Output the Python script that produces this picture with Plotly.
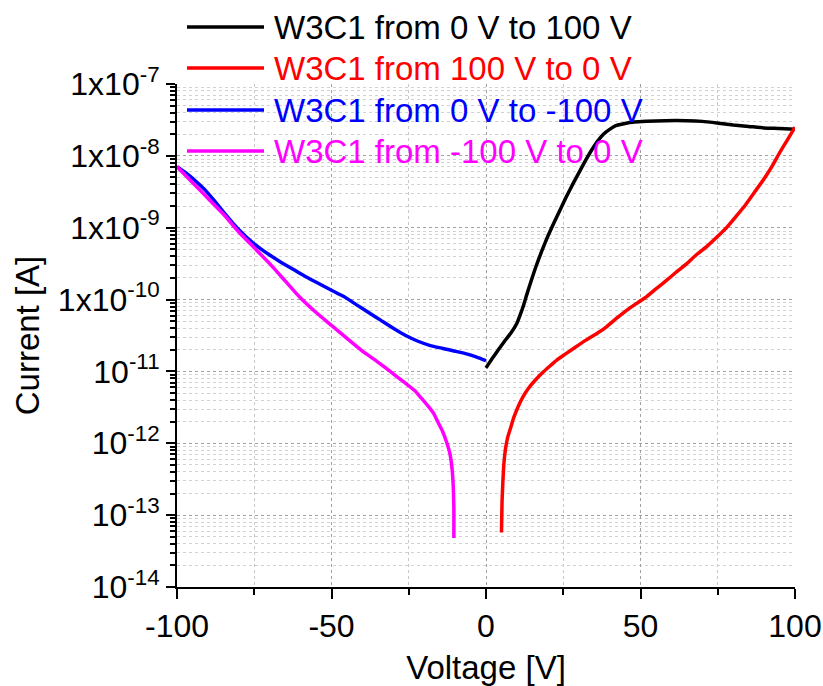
import plotly.graph_objects as go

# Sweep 1: 0 V -> 100 V
v_up_pos = [0, 2, 4, 6, 8, 10, 11, 12, 13, 14, 16, 18, 20, 22, 24, 26, 28, 30, 32, 34, 36,
            38, 40, 42, 45, 48, 52, 58, 65, 70, 76, 80, 85, 90, 95, 100]
i_up_pos = [1.12e-11, 1.51e-11, 2.00e-11, 2.63e-11, 3.39e-11, 4.68e-11, 6.03e-11, 7.94e-11,
            1.10e-10, 1.51e-10, 2.75e-10, 4.68e-10, 7.59e-10, 1.17e-9, 1.78e-9, 2.69e-9,
            3.98e-9, 5.75e-9, 8.32e-9, 1.17e-8, 1.58e-8, 2.00e-8, 2.34e-8, 2.63e-8,
            2.82e-8, 2.95e-8, 3.02e-8, 3.09e-8, 3.09e-8, 3.02e-8, 2.82e-8, 2.69e-8,
            2.57e-8, 2.45e-8, 2.40e-8, 2.34e-8]

# Sweep 2: 100 V -> 0 V
v_down_pos = [100, 97.5, 95, 92.5, 90, 87, 84, 81, 78, 75, 71.5, 68, 65, 61.5, 58.5, 55, 52,
              48.5, 45.5, 42, 39, 36, 32.5, 29, 26, 23, 20.5, 18, 16, 14, 12, 10.5, 9, 8, 7,
              6.3, 5.8, 5.5, 5.2, 5.0]
i_down_pos = [2.51e-8, 1.66e-8, 1.10e-8, 7.08e-9, 4.79e-9, 3.16e-9, 2.09e-9, 1.45e-9,
              1.02e-9, 7.59e-10, 5.50e-10, 4.17e-10, 3.16e-10, 2.40e-10, 1.86e-10,
              1.41e-10, 1.10e-10, 8.71e-11, 7.08e-11, 5.37e-11, 4.17e-11, 3.39e-11,
              2.75e-11, 2.19e-11, 1.78e-11, 1.45e-11, 1.17e-11, 9.33e-12, 7.59e-12,
              6.03e-12, 4.47e-12, 3.31e-12, 2.29e-12, 1.66e-12, 1.20e-12, 8.32e-13,
              5.25e-13, 3.16e-13, 1.58e-13, 5.75e-14]

# Sweep 3: 0 V -> -100 V
v_up_neg = [0, -3, -6, -10, -14, -18, -22, -26, -30, -34, -38, -42, -46, -50, -54, -58, -62,
            -66, -70, -73, -76, -79, -82, -85, -88, -91, -94, -97, -100]
i_up_neg = [1.41e-11, 1.58e-11, 1.74e-11, 1.91e-11, 2.09e-11, 2.29e-11, 2.63e-11, 3.16e-11,
            3.98e-11, 5.13e-11, 6.61e-11, 8.51e-11, 1.10e-10, 1.35e-10, 1.66e-10, 2.04e-10,
            2.57e-10, 3.24e-10, 4.17e-10, 5.13e-10, 6.46e-10, 8.51e-10, 1.17e-9, 1.66e-9,
            2.40e-9, 3.39e-9, 4.47e-9, 5.75e-9, 7.08e-9]

# Sweep 4: -100 V -> 0 V
v_down_neg = [-100, -95, -90, -85, -80, -75, -70, -65, -60, -55, -50, -45, -40, -35, -31,
              -28, -25, -23, -21, -19, -17, -15.5, -14, -12.8, -11.7, -11.0, -10.6, -10.4,
              -10.4]
i_down_neg = [7.08e-9, 4.27e-9, 2.57e-9, 1.55e-9, 8.71e-10, 5.25e-10, 3.16e-10, 1.82e-10,
              1.05e-10, 6.61e-11, 4.37e-11, 2.88e-11, 1.91e-11, 1.35e-11, 1.0e-11,
              7.94e-12, 6.31e-12, 5.37e-12, 4.27e-12, 3.39e-12, 2.63e-12, 1.95e-12,
              1.45e-12, 1.05e-12, 7.24e-13, 4.47e-13, 2.51e-13, 1.26e-13, 4.79e-14]

names = ["W3C1 from 0 V to 100 V", "W3C1 from 100 V to 0 V",
         "W3C1 from 0 V to -100 V", "W3C1 from -100 V to 0 V"]
colors = ["#000000", "#ff0000", "#0000ff", "#ff00ff"]
series = [(v_up_pos, i_up_pos), (v_down_pos, i_down_pos),
          (v_up_neg, i_up_neg), (v_down_neg, i_down_neg)]

# axis labels
x_ticks = [-100, -50, 0, 50, 100]
x_ticktext = ["-100", "-50", "0", "50", "100"]
y_decades = [-14, -13, -12, -11, -10, -9, -8, -7]
y_ticktext = ["10<sup>-14</sup>", "10<sup>-13</sup>", "10<sup>-12</sup>", "10<sup>-11</sup>",
              "1x10<sup>-10</sup>", "1x10<sup>-9</sup>", "1x10<sup>-8</sup>", "1x10<sup>-7</sup>"]

FONT = "Liberation Sans, Arial, sans-serif"

fig = go.Figure()
for (vx, iy), name, col in zip(series, names, colors):
    fig.add_trace(go.Scatter(x=vx, y=iy, mode="lines", name=name,
                             line=dict(color=col, width=3.5, shape="spline", smoothing=0.4),
                             showlegend=False))

# legend drawn as line samples plus coloured labels
L, R, T, B = 177, 28, 84, 99
W, H = 823, 686
pw, ph = W - L - R, H - T - B
row_y = [27, 68, 110, 151]
for name, col, py in zip(names, colors, row_y):
    yp = (H - B - py) / ph
    fig.add_shape(type="line", xref="paper", yref="paper",
                  x0=(187 - L) / pw, x1=(264 - L) / pw, y0=yp, y1=yp,
                  line=dict(color=col, width=3.5))
    fig.add_annotation(xref="paper", yref="paper", x=(272 - L) / pw, y=yp,
                       xanchor="left", yanchor="middle", showarrow=False,
                       text=name, font=dict(family=FONT, size=33, color=col))

minor_y = [m * 10.0 ** d for d in y_decades[:-1] for m in range(2, 10)]

fig.update_layout(
    width=W, height=H,
    margin=dict(l=L, r=R, t=T, b=B, autoexpand=False),
    paper_bgcolor="white", plot_bgcolor="white",
    font=dict(family=FONT, size=32, color="black"),
    showlegend=False,
    xaxis=dict(
        range=[-100, 100], tickmode="array", tickvals=x_ticks, ticktext=x_ticktext,
        automargin=False,
        ticks="outside", ticklen=10, tickwidth=2, tickcolor="black",
        showline=True, linecolor="black", linewidth=2, mirror=False,
        showgrid=True, gridcolor="#a0a0a0", griddash="dot", gridwidth=1,
        zeroline=False,
        minor=dict(tickmode="array", tickvals=[-75, -25, 25, 75], ticks="outside",
                   ticklen=6, tickwidth=2, tickcolor="black",
                   showgrid=True, gridcolor="#c8c8c8", griddash="dot", gridwidth=1),
        title=dict(text="Voltage [V]", font=dict(size=33), standoff=14),
        tickfont=dict(size=32),
    ),
    yaxis=dict(
        type="log", range=[-14, -7], automargin=False,
        tickmode="array", tickvals=[10.0 ** d for d in y_decades], ticktext=y_ticktext,
        ticks="outside", ticklen=9, tickwidth=2, tickcolor="black",
        showline=True, linecolor="black", linewidth=2, mirror=False,
        showgrid=True, gridcolor="#a0a0a0", griddash="dot", gridwidth=1,
        zeroline=False,
        minor=dict(tickmode="array", tickvals=minor_y, ticks="outside",
                   ticklen=5, tickwidth=2, tickcolor="black",
                   showgrid=True, gridcolor="#d2d2d2", griddash="dot", gridwidth=1),
        title=dict(text="Current [A]", font=dict(size=33), standoff=8),
        tickfont=dict(size=32),
    ),
)

fig.write_html("out.html")
